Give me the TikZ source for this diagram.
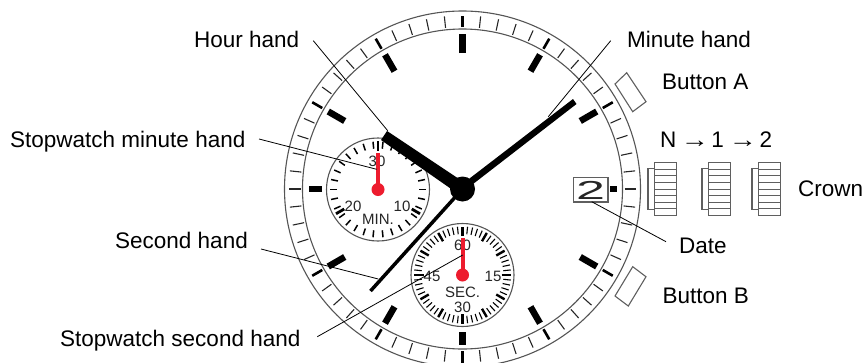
\documentclass[tikz,border=0pt]{standalone}
\usepackage{fontspec}
\setmainfont{Liberation Sans}
\usepackage{tikz}
\usetikzlibrary{calc}
\definecolor{DialRed}{RGB}{237,28,46}
\definecolor{RimGray}{RGB}{85,85,85}
\definecolor{PartGray}{RGB}{95,95,95}
\newcommand{\posarrow}{\scalebox{1.25}[1]{→}}
\tikzset{
  partlabel/.style={anchor=base west,inner sep=0pt,font=\fontsize{22.5}{27}\selectfont},
  dialnum/.style={inner sep=0pt,text=black!85,font=\fontsize{15}{17}\selectfont},
  leader/.style={line width=0.8pt,black},
  rimline/.style={line width=1.1pt,RimGray},
  partline/.style={line width=1.1pt,PartGray}
}
\begin{document}
\begin{tikzpicture}[x=1pt,y=-1pt]
      \useasboundingbox (0,0) rectangle (864,362);
      \coordinate (Cwatch) at (462.5,189);
      \coordinate (Cmin) at (378,189.5);
      \coordinate (Csec) at (462.5,275);
      % case and bezel
      \draw[rimline] (Cwatch) circle[radius=178];
      \draw[rimline] (Cwatch) circle[radius=160];
      \begin{scope}[shift={(Cwatch)}]
        \foreach \a in {0,6,...,354}
          \draw[line width=1.1pt,black!85] (\a:162)--(\a:173.5);
        \foreach \a in {-90,-60,-30,30,60,90,120,150,210,240}
          \draw[line width=2.6pt] (\a:162)--(\a:173.5);
        % hour marks
        \foreach \a in {-60,-30,30,60,120,150,210,240}
          \draw[line width=6.5pt] (\a:136)--(\a:155);
        \draw[line width=6.5pt] (-90:136)--(-90:155);
        \draw[line width=6.5pt] (90:143)--(90:156);
        \draw[line width=6.5pt] (180:141)--(180:154);
        \draw[line width=6.5pt] (0:147.5)--(0:154.5);
      \end{scope}
      % stopwatch minute dial
      \draw[line width=1.1pt,RimGray,fill=white] (Cmin) circle[radius=51.5];
      \begin{scope}[shift={(Cmin)}]
        \foreach \a in {0,12,...,348}
          \draw[line width=1.5pt] (\a:41)--(\a:48);
        \foreach \a in {-90,30,150}
          \draw[line width=2.8pt] (\a:39)--(\a:48.5);
      \end{scope}
      \node[dialnum] (numA) at (377,161.5) {30};
      \node[dialnum] (numB) at (353,206) {20};
      \node[dialnum] (numC) at (402,206) {10};
      \node[dialnum] (numD) at (378,219) {MIN.};
      % stopwatch second dial
      \draw[line width=1.1pt,RimGray,fill=white] (Csec) circle[radius=51.5];
      \begin{scope}[shift={(Csec)}]
        \foreach \a in {0,6,...,354}
          \draw[line width=1.1pt] (\a:41)--(\a:48.5);
        \foreach \a in {0,30,...,330}
          \draw[line width=2.4pt] (\a:39)--(\a:48.5);
      \end{scope}
      \node[dialnum] (numE) at (462.5,245.5) {60};
      \node[dialnum] (numF) at (432,276) {45};
      \node[dialnum] (numG) at (493,276) {15};
      \node[dialnum] (numH) at (462.5,292) {SEC.};
      \node[dialnum] (numI) at (462.5,307) {30};
      % date window
      \draw[line width=1.6pt,PartGray,fill=white] (573.5,177.5) rectangle (608,202);
      \node[inner sep=0pt,text=black!85,xscale=2,font=\fontsize{26}{28}\selectfont] (datenum) at (590.5,190) {2};
      % red stopwatch hands
      \draw[DialRed,line width=4pt] (Cmin)--++(0,-37);
      \fill[DialRed] (Cmin) circle[radius=6.5];
      \draw[DialRed,line width=4pt] (Csec)--++(0,-37.5);
      \fill[DialRed] (Csec) circle[radius=6.5];
      % main hands
      \draw[line width=3.5pt] (370.5,291)--(Cwatch);
      \fill (573,99)--(576.5,104)--(464,191)--(460,185.8)--cycle;
      \fill (387,131)--(381,140)--(459,194.4)--(466,183.6)--cycle;
      \fill (Cwatch) circle[radius=12.5];
      % buttons
      \draw[partline] (626.7,72.7)--(646,101.7)--(632.7,111.7)--(615,84)--cycle;
      \draw[partline] (632.7,266.7)--(646,276.7)--(628.3,306)--(615,296)--cycle;
      % crown positions
      \foreach \x in {654.5,708.5,758.5} {
        \draw[partline] (\x,168.5)--++(-6.5,0)--++(0,41)--++(6.5,0);
        \draw[partline] (\x,162.5) rectangle ++(22,53);
        \foreach \n in {1,...,7}
          \draw[partline,line width=0.8pt] (\x,162.5+6.625*\n)--++(22,0);
      }
      % labels
      \node[partlabel] (hourlabel) at (194,47) {Hour hand};
      \node[partlabel] (minutelabel) at (627,47) {Minute hand};
      \node[partlabel] (swminlabel) at (10,147) {Stopwatch minute hand};
      \node[partlabel] (secondlabel) at (115,248) {Second hand};
      \node[partlabel] (swseclabel) at (60,346) {Stopwatch second hand};
      \node[partlabel] (buttonAlabel) at (662,89.5) {Button A};
      \node[partlabel] (buttonBlabel) at (662.5,303) {Button B};
      \node[partlabel] (poslabel) at (660,147) {N\hspace{4.4pt}\posarrow\hspace{2.3pt}1\hspace{5.1pt}\posarrow\hspace{2.7pt}2};
      \node[partlabel] (crownlabel) at (798,196) {Crown};
      \node[partlabel] (datelabel) at (679,253) {Date};
      % leader lines
      \coordinate (Ahour) at (313.3,40.7);
      \coordinate (Bhour) at (387.7,130.7);
      \coordinate (Aminute) at (610.7,40.7);
      \coordinate (Bminute) at (548.3,116.7);
      \coordinate (Aswmin) at (259,139);
      \coordinate (Bswmin) at (376.7,169.3);
      \coordinate (Asecond) at (261,249);
      \coordinate (Bsecond) at (378.3,279);
      \coordinate (Aswsec) at (317.3,336.7);
      \coordinate (Bswsec) at (462.7,255);
      \coordinate (Adate) at (591.7,201.7);
      \coordinate (Bdate) at (666,241.7);
      \draw[leader] (Ahour)--(Bhour);
      \draw[leader] (Aminute)--(Bminute);
      \draw[leader] (Aswmin)--(Bswmin);
      \draw[leader] (Asecond)--(Bsecond);
      \draw[leader] (Aswsec)--(Bswsec);
      \draw[leader] (Adate)--(Bdate);
    \end{tikzpicture}
\end{document}
